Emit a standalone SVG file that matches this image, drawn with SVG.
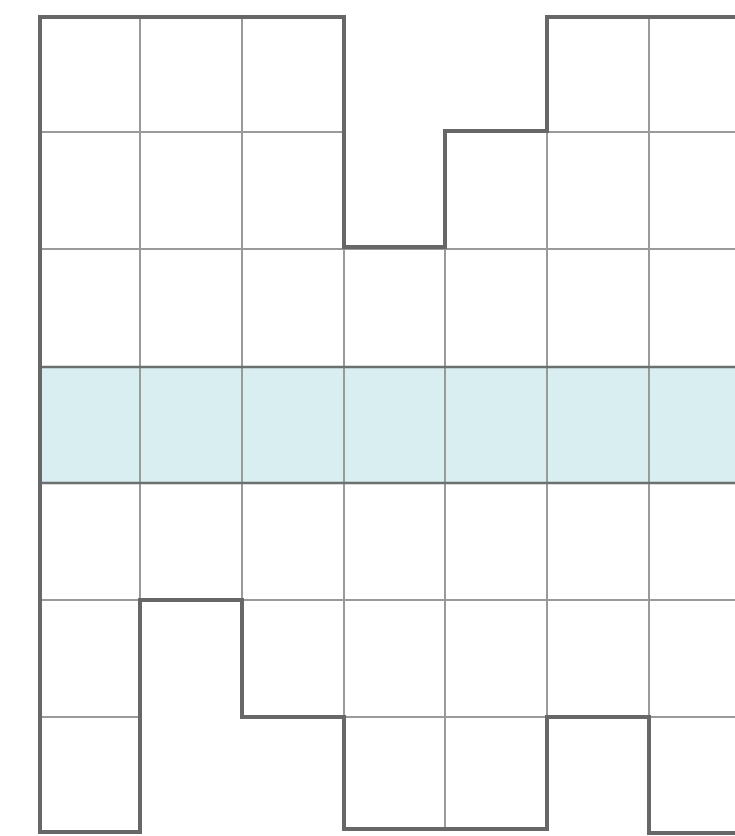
<svg xmlns="http://www.w3.org/2000/svg" width="735" height="836" viewBox="0 0 735 836">
<style>
.grid{stroke:#9a9a9a;stroke-width:2;fill:none}
.band{fill:#d9eef0}
.bandline{stroke:#6b6f70;stroke-width:2.5;fill:none}
.outline{stroke:#676767;stroke-width:4;fill:none;stroke-linejoin:miter}
</style>
<defs>
<clipPath id="shape">
<path d="M40,17 H344 V247 H445 V131 H547 V17 H740 V833 H649 V717 H547 V829 H344 V717 H242 V600 H140 V832 H40 Z"/>
</clipPath>
</defs>
<rect width="735" height="836" fill="#ffffff"/>
<g id="band" clip-path="url(#shape)">
<rect class="band" x="40" y="367" width="700" height="116"/>
</g>
<g id="grid" clip-path="url(#shape)">
<path class="grid" d="M140,0 V836 M242,0 V836 M344,0 V836 M445,0 V836 M547,0 V836 M649,0 V836"/>
<path class="grid" d="M0,132 H735 M0,249 H735 M0,600 H735 M0,717 H735"/>
<path class="bandline" d="M40,367 H735 M40,483 H735"/>
</g>
<g id="outline">
<path class="outline" d="M740,17 H547 V131 H445 V247 H344 V17 H40 V832 H140 V600 H242 V717 H344 V829 H547 V717 H649 V833 H740"/>
</g>
</svg>
